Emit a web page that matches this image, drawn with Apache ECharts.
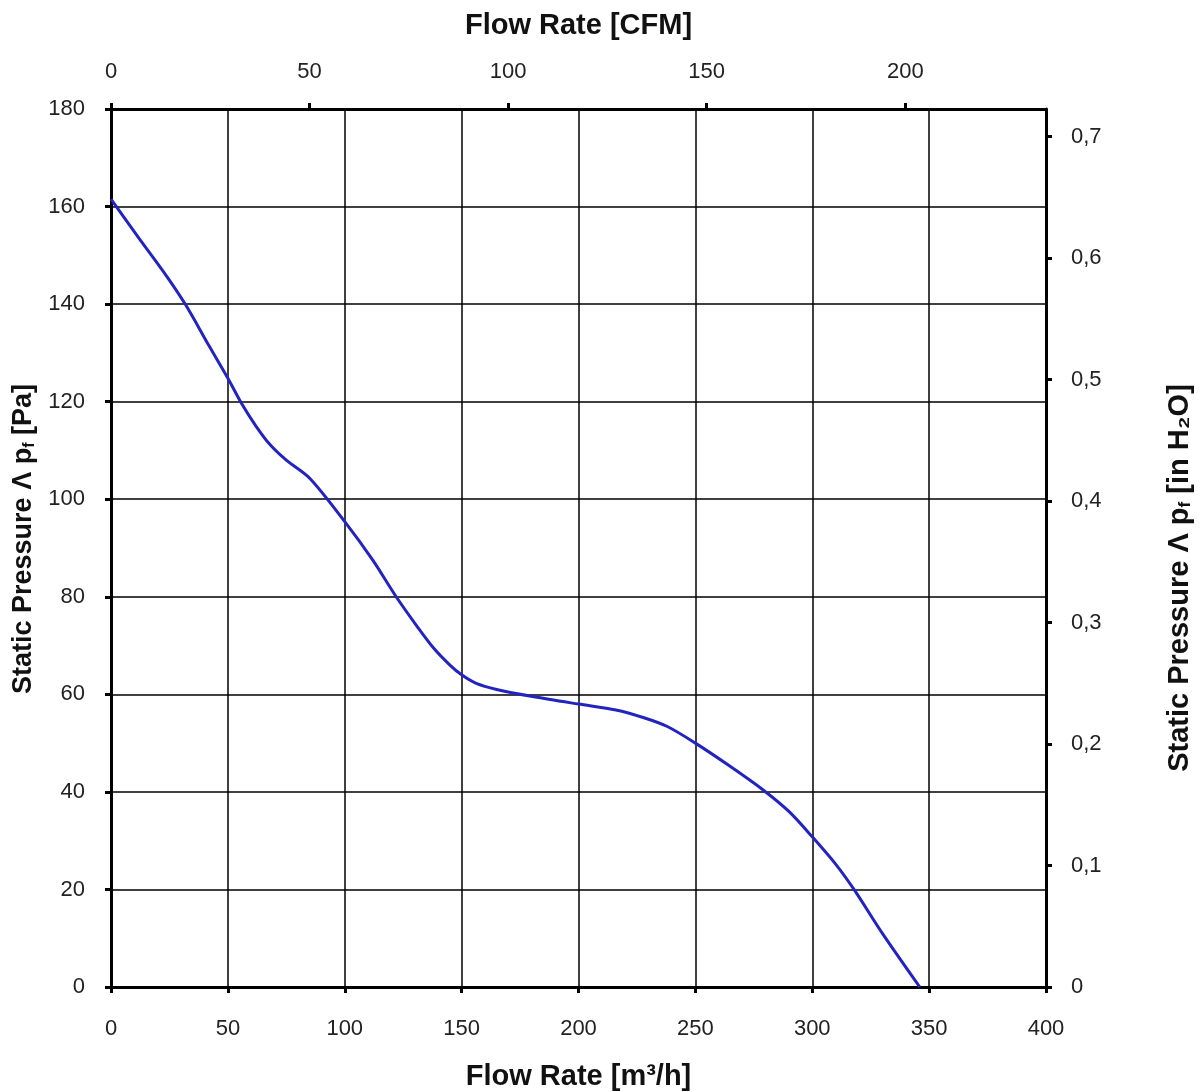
<!DOCTYPE html>
<html>
<head>
<meta charset="utf-8">
<script src="https://cdn.jsdelivr.net/npm/echarts@6/dist/echarts.min.js"></script>
<style>
html,body{margin:0;padding:0;background:#fff;}
#chart{width:1199px;height:1092px;}
</style>
</head>
<body>
<div id="chart"></div>
<script>
// Flow rate in m³/h and static pressure in Pa
var flowM3h = [0, 12, 24, 32, 42, 50, 56, 62, 68, 75, 85, 100, 112, 122, 131, 138, 145, 150, 156, 165, 181, 200, 216, 228, 238, 250, 265, 279, 290, 300, 310, 318, 330, 346];
var pressurePa = [161.5, 153.5, 145.6, 139.8, 131.4, 124.8, 119.5, 115, 111.2, 108, 104.3, 95.4, 87.5, 80, 73.9, 69.5, 66, 64, 62.3, 61, 59.5, 58, 56.8, 55.2, 53.4, 50, 45.2, 40.4, 36, 30.8, 25.2, 19.9, 11, 0];

// Secondary axis tick labels
var cfmTicks = [0, 50, 100, 150, 200];
var inH2OTicks = [0, 0.1, 0.2, 0.3, 0.4, 0.5, 0.6, 0.7];

var M3H_PER_CFM = 1.69901;
var PA_PER_INH2O = 249.089;
var X_MAX = 400, Y_MAX = 180;

var seriesData = flowM3h.map(function (x, i) { return [x, pressurePa[i]]; });

var FONT = '"Liberation Sans", Arial, sans-serif';
var labelStyle = { color: '#222', fontSize: 22, fontFamily: FONT };
var flowNameStyle = { color: '#111', fontSize: 29, fontWeight: 'bold', fontFamily: FONT };
function richName(size, padStart, padEnd) {
  var base = { fontSize: size, fontWeight: 'bold', fontFamily: FONT, color: '#111' };
  return {
    s: Object.assign({ padding: [0, 0, 0, padStart] }, base),
    a: base,
    e: Object.assign({ padding: [0, padEnd, 0, 0] }, base),
    sub: { fontSize: Math.round(size * 0.6), fontWeight: 'bold', fontFamily: FONT, color: '#111', verticalAlign: 'bottom', padding: [10, 0, 0, 0] }
  };
}
var axisLine = { show: true, onZero: false, lineStyle: { color: '#000', width: 3 } };
var tick = { show: true, inside: false, length: 6, lineStyle: { color: '#000', width: 3 } };

var chart = echarts.init(document.getElementById('chart'));
chart.setOption({
  backgroundColor: '#fff',
  animation: false,
  grid: { left: 111, right: 153, top: 109, bottom: 105, containLabel: false, outerBoundsMode: 'none' },
  xAxis: [
    {
      type: 'value', position: 'bottom', min: 0, max: X_MAX, interval: 50,
      name: 'Flow Rate [m³/h]', nameLocation: 'middle', nameGap: 75, nameTextStyle: flowNameStyle,
      axisLine: axisLine, axisTick: tick,
      axisLabel: Object.assign({ margin: 31 }, labelStyle),
      splitLine: { show: true, lineStyle: { color: '#000', width: 1.5 } }
    },
    {
      type: 'value', position: 'top', min: 0, max: X_MAX / M3H_PER_CFM,
      name: 'Flow Rate [CFM]', nameLocation: 'middle', nameGap: 69, nameTextStyle: flowNameStyle,
      axisLine: axisLine,
      axisTick: Object.assign({ customValues: cfmTicks }, tick),
      axisLabel: Object.assign({ margin: 26, customValues: cfmTicks }, labelStyle),
      splitLine: { show: false }
    }
  ],
  yAxis: [
    {
      type: 'value', position: 'left', min: 0, max: Y_MAX, interval: 20,
      name: '{s|Static Pressure Λ p}{sub|f}{a| [Pa]}', nameLocation: 'middle', nameGap: 72, nameRotate: 90,
      nameTextStyle: { rich: richName(27, 18, 0) },
      axisLine: axisLine, axisTick: tick,
      axisLabel: Object.assign({ margin: 26 }, labelStyle),
      splitLine: { show: true, lineStyle: { color: '#000', width: 1.5 } }
    },
    {
      type: 'value', position: 'right', min: 0, max: Y_MAX / PA_PER_INH2O,
      name: '{a|Static Pressure Λ p}{sub|f}{e| [in H₂O]}', nameLocation: 'middle', nameGap: 119, nameRotate: 90,
      nameTextStyle: { rich: richName(29, 0, 60) },
      axisLine: axisLine,
      axisTick: Object.assign({ customValues: inH2OTicks }, tick),
      axisLabel: Object.assign({
        margin: 25, customValues: inH2OTicks,
        formatter: function (v) { return v === 0 ? '0' : v.toFixed(1).replace('.', ','); }
      }, labelStyle),
      splitLine: { show: false }
    }
  ],
  series: [
    {
      type: 'line', xAxisIndex: 0, yAxisIndex: 0,
      data: seriesData, smooth: 0.3, showSymbol: false, symbol: 'none',
      lineStyle: { color: '#2323c0', width: 3 },
      z: 5
    }
  ]
});
</script>
</body>
</html>
